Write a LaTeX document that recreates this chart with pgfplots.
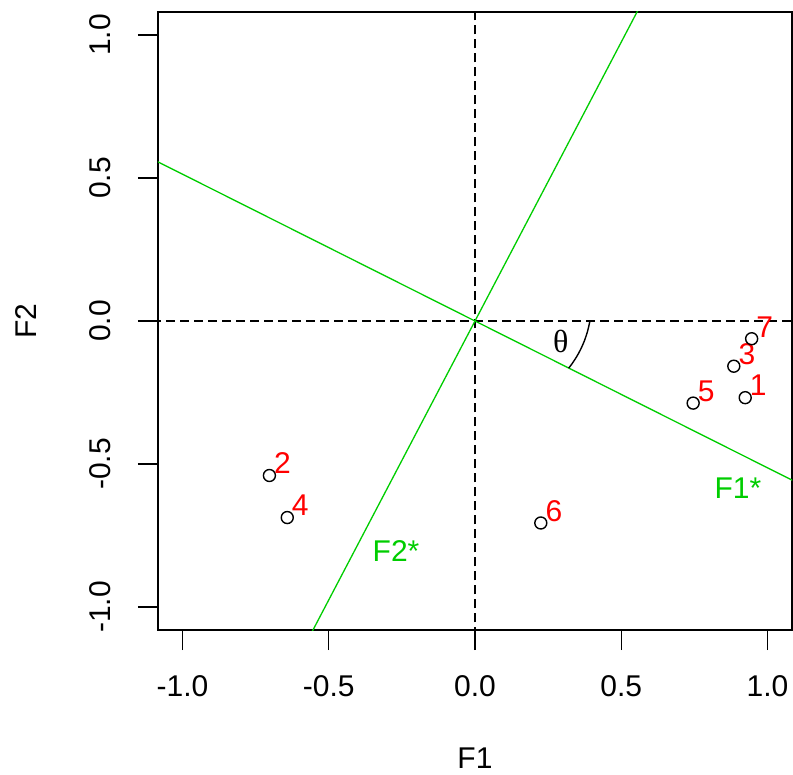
\documentclass[border=0pt]{standalone}
\usepackage{fontspec}
\setmainfont{Liberation Sans}
\newfontfamily\thetafont{Liberation Serif}
\usepackage{pgfplots}
\usepackage{pgfplotstable}
\pgfplotsset{compat=1.18}
\definecolor{rgreen}{RGB}{0,205,0}
\definecolor{rred}{RGB}{255,0,0}
\pgfplotstableread{
x y lab
0.924 -0.268 1
-0.703 -0.540 2
0.885 -0.158 3
-0.642 -0.687 4
0.746 -0.287 5
0.225 -0.706 6
0.946 -0.062 7
}\pts
\begin{document}
\fontsize{30bp}{36bp}\selectfont
\begin{tikzpicture}
\begin{axis}[
 scale only axis, width=634bp, height=618bp,
 xmin=-1.084, xmax=1.084, ymin=-1.08, ymax=1.08,
 axis line style={line width=1.4bp},
 tick style={line width=1.4bp, black},
 major tick length=20bp,
 tick align=outside,
 xtick pos=left, ytick pos=left,
 xtick={-1,-0.5,0,0.5,1}, xticklabels={-1.0,-0.5,0.0,0.5,1.0},
 ytick={-1,-0.5,0,0.5,1}, yticklabels={-1.0,-0.5,0.0,0.5,1.0},
 xticklabel style={inner sep=0pt, anchor=north, yshift=-25bp},
 yticklabel style={inner sep=0pt, rotate=90, anchor=south, yshift=27bp},
 xlabel={F1}, ylabel={F2},
 xlabel style={at={(axis description cs:0.5,0)}, anchor=center, yshift=-128bp, inner sep=0pt},
 ylabel style={at={(axis description cs:0,0.5)}, anchor=center, yshift=132bp, inner sep=0pt},
]
\addplot[black, line width=1.3bp, dash pattern=on 9bp off 5bp] coordinates {(0,-1.2) (0,1.2)};
\addplot[black, line width=1.3bp, dash pattern=on 9bp off 5bp] coordinates {(-1.2,0) (1.2,0)};
\addplot[rgreen, line width=1.3bp] coordinates {(-1.2,0.6156) (1.2,-0.6156)};
\addplot[rgreen, line width=1.3bp] coordinates {(-0.6,-1.1696) (0.6,1.1696)};
\addplot[black, line width=1.4bp, smooth] coordinates {
 (0.393,0) (0.3855,-0.0337) (0.3752,-0.0662) (0.3622,-0.0971)
 (0.3467,-0.1262) (0.3290,-0.1534) (0.3202,-0.1645)};
\addplot[only marks, mark=o, mark size=6bp, mark options={line width=1.4bp, black},
 nodes near coords, point meta=explicit symbolic,
 nodes near coords style={anchor=south west, text=rred, inner sep=0pt, xshift=4bp, yshift=1bp, font=\fontsize{30bp}{36bp}\selectfont}]
 table[x=x, y=y, meta=lab] {\pts};
\node[text=rgreen, inner sep=0pt] at (axis cs:0.899,-0.586) {F1*};
\node[text=rgreen, inner sep=0pt] at (axis cs:-0.270,-0.804) {F2*};
\node[inner sep=0pt] at (axis cs:0.293,-0.070) {\fontsize{32bp}{36bp}\thetafont θ};
\end{axis}
\pgfresetboundingbox
\path ([shift={(-158bp,-145bp)}]current axis.south west) rectangle ([shift={(1bp,12bp)}]current axis.north east);
\end{tikzpicture}
\end{document}
